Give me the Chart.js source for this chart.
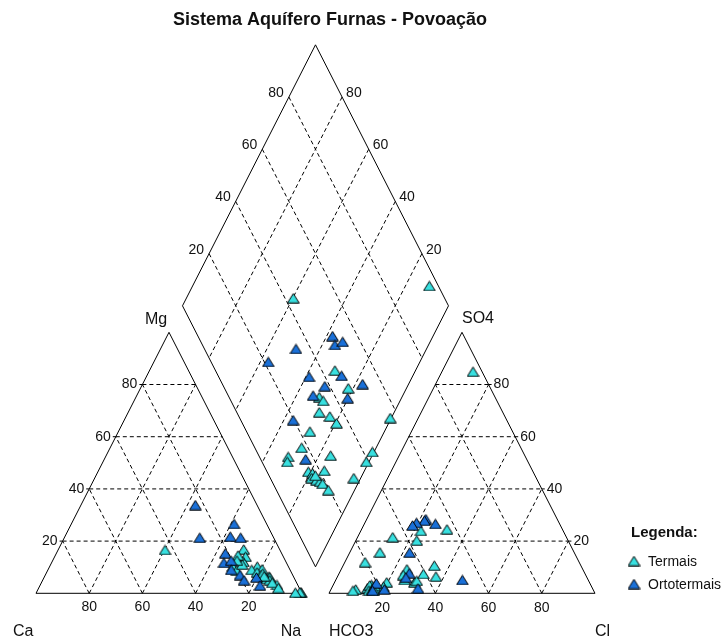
<!DOCTYPE html>
<html>
<head>
<meta charset="utf-8">
<script src="https://cdn.jsdelivr.net/npm/chart.js@4.4.1/dist/chart.umd.min.js"></script>
<style>
html,body{margin:0;padding:0;background:#fff;}
#wrap{position:relative;width:726px;height:640px;}
</style>
</head>
<body>
<div id="wrap"><canvas id="c" width="726" height="640"></canvas></div>
<script>
// ---------------- DATA (percent of meq/L) ----------------
const chartTitle = 'Sistema Aquífero Furnas - Povoação';
const groupNames = ['Termais', 'Ortotermais'];
const groupColors = ['#38e0e0', '#1a70d8'];
// sample group: 0 = Termais, 1 = Ortotermais
const sampleGroup = [
  0,0,0,0,0,0,0,0,0,0,0,0,0,0,0,0,0,0,0,0,0,0,0,0,0,0,0,
  1,1,1,1,1,1,1,1,1,1,1,1,1
];
// cations
const naK = [
  40.2,89.0,69.7,78.1,68.9,71.1,71.8,76.6,80.4,99.6,72.0,72.0,84.4,68.7,69.3,99.4,99.0,79.1,81.0,84.9,81.5,83.8,85.4,86.8,90.1,97.4,82.5,
  43.0,50.9,61.2,62.2,63.5,64.8,66.3,67.1,68.9,73.2,75.7,79.8,82.7
];
const mg = [
  16.6,3.2,16.8,10.2,10.2,8.7,14.0,9.0,9.2,0.2,12.0,11.0,6.4,14.5,12.5,0.3,0.4,8.0,7.0,6.0,7.5,5.5,5.0,4.0,2.0,0.2,6.5,
  33.8,21.3,26.6,21.7,15.3,11.7,21.3,12.5,9.0,7.0,5.0,6.1,3.0
];
// anions
const hco3 = [
  56.9,3.4,55.1,53.5,66.1,65.3,69.0,65.8,64.6,43.4,76.2,82.4,73.0,89.2,90.5,56.6,60.8,84.5,83.2,78.3,84.5,83.0,82.0,81.4,80.5,68.6,82.6,
  78.5,65.6,66.0,49.4,80.3,50.2,68.1,46.7,61.9,53.6,83.1,55.6,47.3
];
const so4 = [
  20.2,84.9,10.6,23.9,9.2,21.5,5.1,4.2,4.8,24.5,4.2,3.2,15.7,1.5,1.0,6.4,7.4,2.0,3.0,2.5,1.0,1.5,2.0,2.8,11.9,7.0,1.0,
  1.5,1.9,7.7,28.4,3.8,27.8,6.0,26.6,15.6,27.0,1.0,26.0,5.1
];
const tickValues = [20, 40, 60, 80];
const tickLabels = ['20', '40', '60', '80'];
const cationLabels = ['Ca', 'Mg', 'Na'];
const anionLabels = ['HCO3', 'SO4', 'Cl'];
const legendTitle = 'Legenda:';

// ---------------- GEOMETRY (Piper projection) ----------------
const GAP = 10.15; // gap between the two triangles, in % units
function cat(na, m) { return { x: na + m / 2, y: m }; }
function an(cl, s) { return { x: 100 + GAP + cl + s / 2, y: s }; }
function dia(na, h) { return { x: 100 + GAP / 2 + (na - h) / 2, y: 200 + GAP - h - na }; }

const datasets = [];
// point datasets
[0, 1].forEach(g => {
  const c = [], a = [], d = [];
  sampleGroup.forEach((sg, i) => {
    if (sg !== g) return;
    const cl = 100 - hco3[i] - so4[i];
    c.push(cat(naK[i], mg[i]));
    a.push(an(cl, so4[i]));
    d.push(dia(naK[i], hco3[i]));
  });
  datasets.push({ label: groupNames[g], data: c.concat(a, d), group: g, order: g === 1 ? 0 : 0.5 });
});

function addLine(pts, dashed) {
  datasets.push({
    data: pts, showLine: true, pointRadius: 0, borderColor: '#000', borderWidth: 1,
    borderDash: dashed ? [4, 3] : [], fill: false, tension: 0, order: 2, isLine: true
  });
}
// outlines
addLine([cat(0, 0), cat(100, 0), cat(0, 100), cat(0, 0)], false);
addLine([an(0, 0), an(100, 0), an(0, 100), an(0, 0)], false);
addLine([dia(0, 0), dia(100, 0), dia(100, 100), dia(0, 100), dia(0, 0)], false);
// grids
tickValues.forEach(k => {
  addLine([cat(0, k), cat(100 - k, k)], true);
  addLine([cat(k, 0), cat(k, 100 - k)], true);
  addLine([cat(100 - k, 0), cat(0, 100 - k)], true);
  addLine([an(0, k), an(100 - k, k)], true);
  addLine([an(k, 0), an(k, 100 - k)], true);
  addLine([an(100 - k, 0), an(0, 100 - k)], true);
  addLine([dia(k, 0), dia(k, 100)], true);
  addLine([dia(0, k), dia(100, k)], true);
});

// marker image
function makeMarker(color) {
  const cv = document.createElement('canvas');
  cv.width = 13; cv.height = 11;
  const x = cv.getContext('2d');
  x.beginPath();
  x.moveTo(6.5, 0.8); x.lineTo(12.3, 10.2); x.lineTo(0.7, 10.2); x.closePath();
  x.fillStyle = color; x.fill();
  x.lineWidth = 1; x.strokeStyle = '#000'; x.lineJoin = 'miter'; x.stroke();
  return cv;
}
const markers = groupColors.map(makeMarker);
datasets.forEach(ds => {
  if (ds.isLine) return;
  ds.pointStyle = markers[ds.group];
  ds.pointRadius = 6;
  ds.backgroundColor = groupColors[ds.group];
  ds.borderColor = '#000';
});

// ---------------- TEXT PLUGIN ----------------
const FONT = '"Liberation Sans", Arial, Helvetica, sans-serif';
const textPlugin = {
  id: 'piperText',
  afterDraw(chart) {
    const ctx = chart.ctx;
    const sx = chart.scales.x, sy = chart.scales.y;
    const P = p => [sx.getPixelForValue(p.x), sy.getPixelForValue(p.y)];
    ctx.save();
    ctx.fillStyle = '#111';
    ctx.strokeStyle = '#000';
    ctx.lineWidth = 1;
    // title
    ctx.font = 'bold 18px ' + FONT;
    ctx.textAlign = 'center'; ctx.textBaseline = 'alphabetic';
    ctx.fillText(chartTitle, 330, 25);
    ctx.font = '14px ' + FONT;
    tickValues.forEach((k, i) => {
      const t = tickLabels[i];
      let p;
      // Mg axis (left edge of cation triangle)
      p = P(cat(0, k));
      ctx.textAlign = 'right'; ctx.textBaseline = 'middle';
      ctx.fillText(t, p[0] - 5, p[1]);
      ctx.beginPath(); ctx.moveTo(p[0] - 3, p[1]); ctx.lineTo(p[0], p[1]); ctx.stroke();
      // Ca axis (bottom of cation triangle)
      p = P(cat(100 - k, 0));
      ctx.textAlign = 'center';
      ctx.fillText(t, p[0], p[1] + 14);
      // SO4 axis (right edge of anion triangle)
      p = P(an(100 - k, k));
      ctx.textAlign = 'left';
      ctx.fillText(t, p[0] + 5, p[1]);
      ctx.beginPath(); ctx.moveTo(p[0], p[1]); ctx.lineTo(p[0] + 3, p[1]); ctx.stroke();
      // Cl axis (bottom of anion triangle)
      p = P(an(k, 0));
      ctx.textAlign = 'center';
      ctx.fillText(t, p[0], p[1] + 15);
      // diamond upper-left (SO4+Cl)
      p = P(dia(0, 100 - k));
      ctx.textAlign = 'right'; ctx.textBaseline = 'alphabetic';
      ctx.fillText(t, p[0] - 5, p[1]);
      // diamond upper-right (Ca+Mg)
      p = P(dia(100 - k, 0));
      ctx.textAlign = 'left';
      ctx.fillText(t, p[0] + 4, p[1]);
    });
    // corner labels
    ctx.font = '16px ' + FONT;
    ctx.textBaseline = 'middle';
    let v = P(cat(0, 0));
    ctx.textAlign = 'left'; ctx.fillText(cationLabels[0], v[0] - 23, v[1] + 38);
    v = P(cat(0, 100));
    ctx.textAlign = 'center'; ctx.fillText(cationLabels[1], v[0] - 13, v[1] - 13);
    v = P(cat(100, 0));
    ctx.textAlign = 'center'; ctx.fillText(cationLabels[2], v[0] - 11, v[1] + 38);
    v = P(an(0, 0));
    ctx.textAlign = 'left'; ctx.fillText(anionLabels[0], v[0], v[1] + 38);
    v = P(an(0, 100));
    ctx.textAlign = 'left'; ctx.fillText(anionLabels[1], v[0], v[1] - 14);
    v = P(an(100, 0));
    ctx.textAlign = 'left'; ctx.fillText(anionLabels[2], v[0], v[1] + 38);
    // legend
    ctx.font = 'bold 15px ' + FONT;
    ctx.textAlign = 'left';
    ctx.fillText(legendTitle, 631, 533);
    ctx.font = '14px ' + FONT;
    groupNames.forEach((n, i) => {
      const y = 561 + i * 23;
      ctx.drawImage(markers[i], 634 - 6.5, y - 5.5);
      ctx.fillText(n, 648, y + 1);
    });
    ctx.restore();
  }
};

new Chart(document.getElementById('c'), {
  type: 'scatter',
  data: { datasets },
  options: {
    responsive: false,
    devicePixelRatio: 1,
    animation: false,
    events: [],
    layout: { padding: 0, autoPadding: false },
    scales: {
      x: { type: 'linear', display: false, min: -13.534, max: 259.40 },
      y: { type: 'linear', display: false, min: -17.89, max: 227.32 }
    },
    plugins: { legend: { display: false }, tooltip: { enabled: false }, title: { display: false } }
  },
  plugins: [textPlugin]
});
</script>
</body>
</html>
